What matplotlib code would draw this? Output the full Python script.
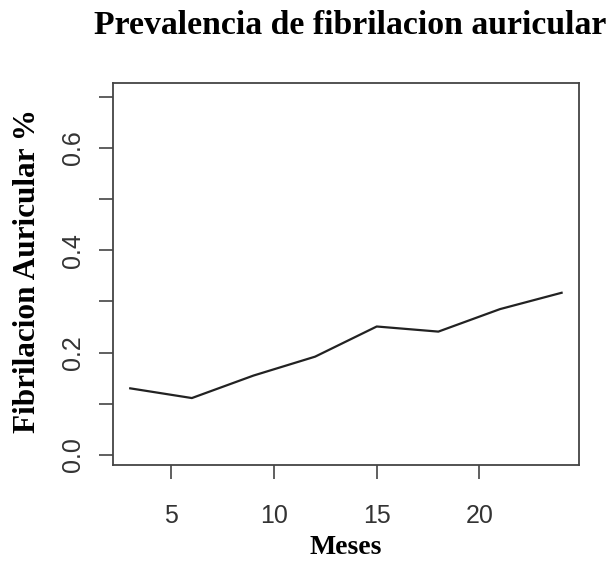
import matplotlib.pyplot as plt

meses = [3, 6, 9, 12, 15, 18, 21, 24]
prevalencia = [0.130, 0.111, 0.155, 0.192, 0.251, 0.241, 0.285, 0.317]
x_ticks = [5, 10, 15, 20]
y_ticks = [0.0, 0.1, 0.2, 0.3, 0.4, 0.5, 0.6, 0.7]
y_labels = ['0.0', '', '0.2', '', '0.4', '', '0.6', '']


def main():
    fig = plt.figure(figsize=(6.13, 5.61), dpi=100)
    ax = fig.add_axes([0.1843, 0.1711, 0.7600, 0.6815])

    ax.plot(meses, prevalencia, color='#222222', linewidth=1.6)

    ax.set_xlim(2.16, 24.84)
    ax.set_ylim(-0.02, 0.728)
    ax.set_xticks(x_ticks)
    ax.set_yticks(y_ticks)
    ax.set_yticklabels(y_labels, rotation=90, va='center')

    sans = ['Liberation Sans', 'DejaVu Sans']
    serif = ['Liberation Serif', 'DejaVu Serif']
    for lab in ax.get_xticklabels() + ax.get_yticklabels():
        lab.set_family(sans)
        lab.set_fontsize(18)
        lab.set_color('#333333')

    ax.tick_params(direction='out', length=10, width=1.2, color='#444444')
    ax.tick_params(axis='x', pad=18)
    ax.tick_params(axis='y', pad=10)
    for sp in ax.spines.values():
        sp.set_color('#444444')
        sp.set_linewidth(1.3)

    ax.set_xlabel('Meses', family=serif, fontweight='bold', fontsize=20)
    ax.xaxis.set_label_coords(0.5, -0.182)
    ax.set_ylabel('Fibrilacion Auricular %', family=serif, fontweight='bold',
                  fontsize=22.5)
    ax.yaxis.set_label_coords(-0.152, 0.507)
    fig.text(0.571, 0.955, 'Prevalencia de fibrilacion auricular', family=serif,
             fontweight='bold', fontsize=24.3, ha='center', va='center')

    fig.savefig('out.png', dpi=100)


if __name__ == "__main__":
    main()
